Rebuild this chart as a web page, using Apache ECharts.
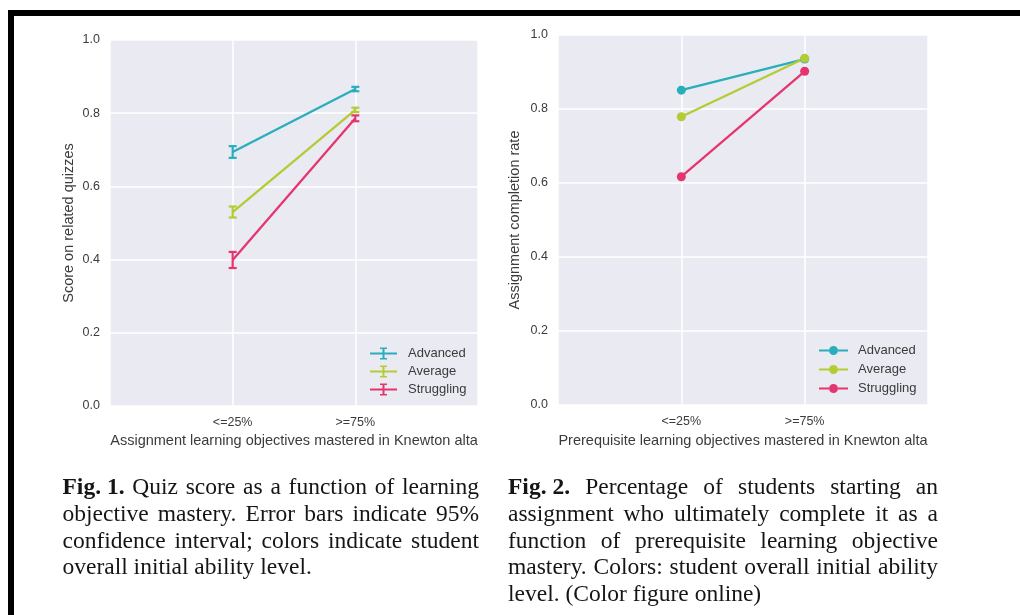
<!DOCTYPE html>
<html><head><meta charset="utf-8">
<script src="https://cdn.jsdelivr.net/npm/echarts@6/dist/echarts.min.js"></script>
<style>html,body{margin:0;padding:0;background:#fff}#c{width:1020px;height:615px}</style>
</head><body><div id="c"></div>
<script>
// ---------- data ----------
const categories = ['<=25%', '>=75%'];
const groups = ['Advanced', 'Average', 'Struggling'];
const groupColors = ['#29AEBB', '#B5CB34', '#E5356F'];

// Fig. 1: mean quiz score and 95% CI half-width
const quizAdvanced = [0.694, 0.866];
const quizAverage = [0.530, 0.809];
const quizStruggling = [0.399, 0.786];
const quizCiAdvanced = [0.016, 0.006];
const quizCiAverage = [0.015, 0.006];
const quizCiStruggling = [0.022, 0.008];

// Fig. 2: assignment completion rate
const completionAdvanced = [0.851, 0.935];
const completionAverage = [0.779, 0.937];
const completionStruggling = [0.617, 0.902];

const yTickLabels = ['0.0', '0.2', '0.4', '0.6', '0.8', '1.0'];
const fig1XName = 'Assignment learning objectives mastered in Knewton alta';
const fig1YName = 'Score on related quizzes';
const fig2XName = 'Prerequisite learning objectives mastered in Knewton alta';
const fig2YName = 'Assignment completion rate';

const caption1 = [
  [['Fig. 1.', true], ['Quiz score as a function of learning', false]],
  [['objective mastery. Error bars indicate 95%', false]],
  [['confidence interval; colors indicate student', false]],
  [['overall initial ability level.', false]]
];
const caption2 = [
  [['Fig. 2.', true], ['Percentage of students starting an', false]],
  [['assignment who ultimately complete it as a', false]],
  [['function of prerequisite learning objective', false]],
  [['mastery. Colors: student overall initial ability', false]],
  [['level. (Color figure online)', false]]
];

// ---------- helpers ----------
const sans = '"Liberation Sans", Arial, sans-serif';
const serif = '"Liberation Serif", "Times New Roman", serif';
const txtColor = '#3b3b3b';

const quizMeans = [quizAdvanced, quizAverage, quizStruggling];
const quizCis = [quizCiAdvanced, quizCiAverage, quizCiStruggling];
const completion = [completionAdvanced, completionAverage, completionStruggling];

function xAxisFor(gi, name, gap) {
  return {
    type: 'value', gridIndex: gi, min: -1, max: 2, interval: 1,
    name: name, nameLocation: 'middle', nameGap: gap,
    nameTextStyle: { fontFamily: sans, fontSize: 14.5, color: txtColor },
    axisLine: { show: false }, axisTick: { show: false },
    axisLabel: { fontFamily: sans, fontSize: 12.5, color: txtColor, margin: 10,
      formatter: v => (categories[v] !== undefined ? categories[v] : '') },
    splitLine: { show: true, lineStyle: { color: '#ffffff', width: 1.5 } }
  };
}
function yAxisFor(gi, name, gap) {
  return {
    type: 'value', gridIndex: gi, min: 0, max: 1, interval: 0.2,
    name: name, nameLocation: 'middle', nameGap: gap,
    nameTextStyle: { fontFamily: sans, fontSize: 14.5, color: txtColor },
    axisLine: { show: false }, axisTick: { show: false },
    axisLabel: { fontFamily: sans, fontSize: 12.5, color: txtColor, margin: 10,
      formatter: v => yTickLabels[Math.round(v * 5)] },
    splitLine: { show: true, lineStyle: { color: '#ffffff', width: 1.5 } }
  };
}

const series = [];
groups.forEach((g, k) => {
  series.push({
    type: 'line', name: g, xAxisIndex: 0, yAxisIndex: 0,
    data: quizMeans[k].map((m, i) => [i, m]),
    symbol: 'none', color: groupColors[k],
    lineStyle: { width: 2.3, color: groupColors[k] }, z: 2
  });
  series.push({
    type: 'custom', name: g, xAxisIndex: 0, yAxisIndex: 0,
    data: quizMeans[k].map((m, i) => [i, m - quizCis[k][i], m + quizCis[k][i]]),
    encode: { x: 0, y: [1, 2] }, color: groupColors[k], z: 3,
    renderItem: (params, api) => {
      const x = api.value(0);
      const lo = api.coord([x, api.value(1)]);
      const hi = api.coord([x, api.value(2)]);
      const hw = 4;
      const st = { stroke: groupColors[k], lineWidth: 2.2, fill: null };
      return { type: 'group', children: [
        { type: 'line', shape: { x1: lo[0], y1: lo[1], x2: hi[0], y2: hi[1] }, style: st },
        { type: 'line', shape: { x1: lo[0] - hw, y1: lo[1], x2: lo[0] + hw, y2: lo[1] }, style: st },
        { type: 'line', shape: { x1: hi[0] - hw, y1: hi[1], x2: hi[0] + hw, y2: hi[1] }, style: st }
      ] };
    }
  });
});
groups.forEach((g, k) => {
  series.push({
    type: 'line', name: g, xAxisIndex: 1, yAxisIndex: 1,
    data: completion[k].map((m, i) => [i, m]),
    symbol: 'circle', symbolSize: 9, color: groupColors[k],
    itemStyle: { color: groupColors[k] },
    lineStyle: { width: 2.3, color: groupColors[k] }, z: 2
  });
});

// caption layout (word by word, justified like the printed page)
const measureCtx = document.createElement('canvas').getContext('2d');
const capSize = 23.5;
function wWidth(t, bold) {
  measureCtx.font = (bold ? 'bold ' : '') + capSize + 'px ' + serif;
  return measureCtx.measureText(t).width;
}
function captionGraphics(lines, x0, x1, y0, lh) {
  const out = [];
  lines.forEach((line, li) => {
    const words = [];
    // bold label ("Fig. n.") stays one token; normal text splits into words
    line.forEach(([t, b]) => (b ? [t] : t.split(' ')).forEach(w => words.push({ w, b })));
    const widths = words.map(o => wWidth(o.w, o.b));
    const total = widths.reduce((a, b) => a + b, 0);
    const last = li === lines.length - 1;
    const gap = last ? wWidth(' ', false) : (x1 - x0 - total) / (words.length - 1);
    let x = x0;
    words.forEach((o, i) => {
      out.push({ type: 'text', x: x, y: y0 + li * lh, silent: true,
        style: { text: o.w, fontFamily: serif, fontSize: capSize, fontWeight: o.b ? 'bold' : 'normal',
          fill: '#151515', textAlign: 'left', textVerticalAlign: 'middle' } });
      x += widths[i] + gap;
    });
  });
  return out;
}

const iconErr = 'path://M0,5 H27 V7 H0 Z M12.5,0 H14.5 V12 H12.5 Z M10,0 H17 V1.6 H10 Z M10,10.4 H17 V12 H10 Z';
const iconDot = 'path://M0,3.5 H10 V5.5 H0 Z M19,3.5 H29 V5.5 H19 Z M10,4.5 A4.5,4.5 0 1,1 19,4.5 A4.5,4.5 0 1,1 10,4.5 Z';

const option = {
  backgroundColor: '#ffffff',
  animation: false,
  grid: [
    { left: 110, top: 40, width: 368, height: 366, show: true, backgroundColor: '#EAEAF2', borderWidth: 0, outerBoundsMode: 'none' },
    { left: 558, top: 35, width: 370, height: 370, show: true, backgroundColor: '#EAEAF2', borderWidth: 0, outerBoundsMode: 'none' }
  ],
  xAxis: [xAxisFor(0, fig1XName, 27), xAxisFor(1, fig2XName, 28)],
  yAxis: [yAxisFor(0, fig1YName, 34), yAxisFor(1, fig2YName, 36)],
  legend: [
    { data: groups, orient: 'vertical', left: 365, top: 342, itemWidth: 27, itemHeight: 12, itemGap: 5,
      icon: iconErr, itemStyle: { borderWidth: 0 }, selectedMode: false,
      textStyle: { fontFamily: sans, fontSize: 13, color: txtColor, padding: [0, 0, 0, 6] } },
    { data: groups, orient: 'vertical', left: 814, top: 339, itemWidth: 29, itemHeight: 9, itemGap: 6,
      icon: iconDot, itemStyle: { borderWidth: 0 }, selectedMode: false,
      textStyle: { fontFamily: sans, fontSize: 13, color: txtColor, padding: [0, 0, 0, 5] } }
  ],
  series: series,
  graphic: [
    { type: 'rect', shape: { x: 8, y: 10, width: 1012, height: 6 }, style: { fill: '#000' }, silent: true },
    { type: 'rect', shape: { x: 8, y: 10, width: 6, height: 605 }, style: { fill: '#000' }, silent: true }
  ].concat(captionGraphics(caption1, 62.5, 479, 488, 26.7))
   .concat(captionGraphics(caption2, 508, 938, 488, 26.7))
};

const chart = echarts.init(document.getElementById('c'), null, { renderer: 'canvas' });
chart.setOption(option);
</script>
</body></html>
